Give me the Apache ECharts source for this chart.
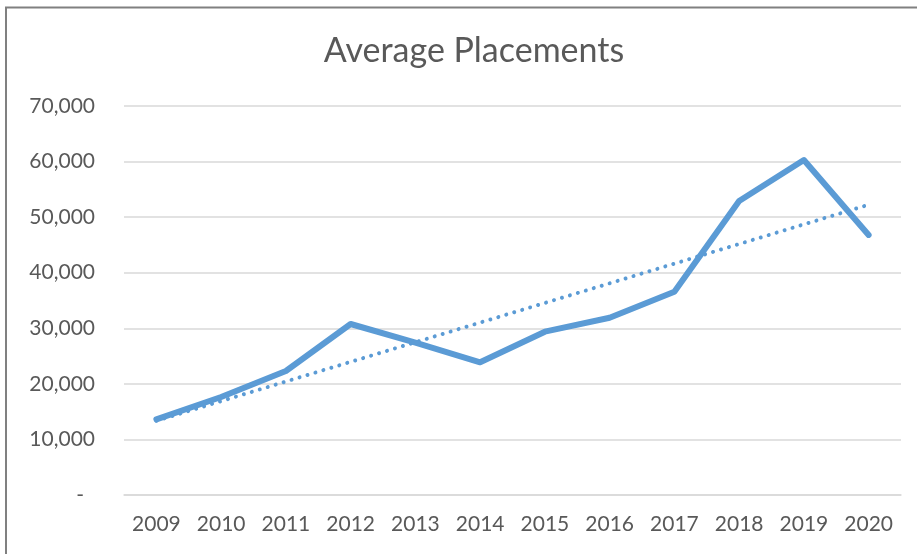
<!DOCTYPE html>
<html>
<head>
<meta charset="utf-8">
<script src="https://cdn.jsdelivr.net/npm/echarts@6/dist/echarts.min.js"></script>
<style>
html,body{margin:0;padding:0;background:#fff;}
#chart{width:917px;height:554px;}
</style>
</head>
<body>
<div id="chart"></div>
<script>
const years = ['2009','2010','2011','2012','2013','2014','2015','2016','2017','2018','2019','2020'];
const placements = [13620, 17640, 22310, 30770, 27400, 23880, 29390, 31900, 36590, 52900, 60280, 46800];
const titleText = 'Average Placements';

// linear trendline (least squares) derived from the series
const n = placements.length;
const xMean = (n - 1) / 2;
const yMean = placements.reduce((a, b) => a + b, 0) / n;
let sxy = 0, sxx = 0;
placements.forEach((v, i) => { sxy += (i - xMean) * (v - yMean); sxx += (i - xMean) * (i - xMean); });
const slope = sxy / sxx;
const intercept = yMean - slope * xMean;
const trend = placements.map((v, i) => intercept + slope * i);

const font = 'Lato, "Open Sans", sans-serif';
const chart = echarts.init(document.getElementById('chart'), null, {renderer: 'canvas'});
chart.setOption({
  animation: false,
  backgroundColor: '#ffffff',
  title: {
    text: titleText,
    left: 469,
    top: 29,
    textAlign: 'center',
    textStyle: {fontFamily: font, fontSize: 34, fontWeight: 'normal', color: '#595959'}
  },
  graphic: [{
    type: 'rect',
    shape: {x: 6, y: 7.5, width: 1000, height: 1000},
    style: {fill: 'none', stroke: '#808080', lineWidth: 2},
    silent: true,
    z: 100
  }],
  grid: {left: 124, right: 16, top: 106, bottom: 59, containLabel: false},
  xAxis: {
    type: 'category',
    data: years,
    boundaryGap: true,
    axisLine: {show: true, lineStyle: {color: '#d9d9d9', width: 1.5}},
    axisTick: {show: false},
    axisLabel: {fontFamily: font, fontSize: 21, color: '#595959', margin: 19}
  },
  yAxis: {
    type: 'value',
    min: 0,
    max: 70000,
    interval: 10000,
    axisLine: {show: false},
    axisTick: {show: false},
    splitLine: {lineStyle: {color: '#d9d9d9', width: 1.5}},
    axisLabel: {
      fontFamily: font, fontSize: 21, color: '#595959', margin: 29,
      formatter: function (v) { return v === 0 ? '{z|-}' : v.toLocaleString('en-US'); },
      rich: {z: {fontFamily: font, fontSize: 21, color: '#595959', padding: [0, 11, 0, 0]}}
    }
  },
  series: [
    {
      name: 'Average Placements',
      type: 'line',
      data: placements,
      symbol: 'none',
      lineStyle: {color: '#5b9bd5', width: 6, cap: 'round', join: 'round'},
      z: 3
    },
    {
      name: 'Trend',
      type: 'line',
      data: trend,
      symbol: 'none',
      lineStyle: {color: '#5b9bd5', width: 4, type: [0.01, 8.3], cap: 'round'},
      z: 2
    }
  ]
});
</script>
</body>
</html>
